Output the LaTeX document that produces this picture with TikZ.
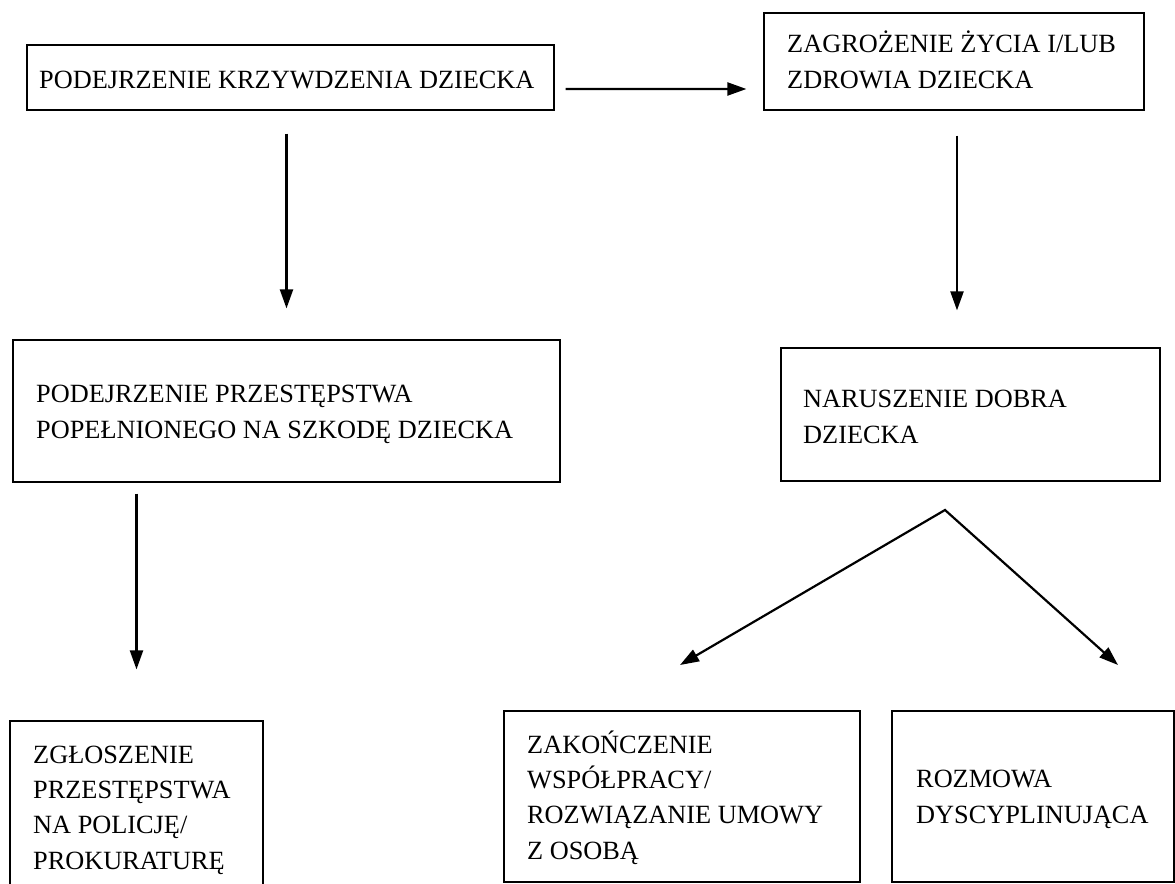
\documentclass[tikz,border=0pt]{standalone}
\usepackage{fontspec}
\setmainfont{Liberation Serif}
\usetikzlibrary{arrows.meta}
\begin{document}
\begin{tikzpicture}[x=1bp,y=-1bp,
  box/.style={draw=black,line width=1.2bp,rectangle,inner sep=0pt},
  txt/.style={anchor=base west,inner sep=0pt,align=left,
    font=\fontsize{26.4}{35.2}\selectfont},
  arr/.style={line width=2.2bp,-{Triangle[length=19bp,width=13bp]}},
  arr2/.style={line width=2.2bp,{Triangle[length=19bp,width=13bp]}-{Triangle[length=19bp,width=13bp]},line join=miter}]
\useasboundingbox (0,0) rectangle (1175,884);
\clip (0,0) rectangle (1175,884);
\fill[white] (0,0) rectangle (1175,884);
% boxes
\node[box,minimum width=527bp,minimum height=65bp] (b1) at (290.5,77.5) {};
\node[box,minimum width=380bp,minimum height=97bp] (b2) at (954,61.5) {};
\node[box,minimum width=547bp,minimum height=142bp] (b3) at (286.5,411) {};
\node[box,minimum width=379bp,minimum height=133bp] (b4) at (970.5,414.5) {};
\node[box,minimum width=253bp,minimum height=172bp] (b5) at (136.5,807) {};
\node[box,minimum width=356bp,minimum height=171bp] (b6) at (682,796.5) {};
\node[box,minimum width=282bp,minimum height=171bp] (b7) at (1033,796.5) {};
% texts (anchor = baseline of the last line)
\node[txt] (t1) at (39,88) {PODEJRZENIE KRZYWDZENIA DZIECKA};
\node[txt] (t2) at (787,88) {ZAGROŻENIE ŻYCIA I/LUB\\ZDROWIA DZIECKA};
\node[txt] (t3) at (36,438) {PODEJRZENIE PRZESTĘPSTWA\\POPEŁNIONEGO NA SZKODĘ DZIECKA};
\node[txt] (t4) at (803,443) {NARUSZENIE DOBRA\\DZIECKA};
\node[txt] (t5) at (33,869) {ZGŁOSZENIE\\PRZESTĘPSTWA\\NA POLICJĘ/\\PROKURATURĘ};
\node[txt] (t6) at (527,859) {ZAKOŃCZENIE\\WSPÓŁPRACY/\\ROZWIĄZANIE UMOWY\\Z OSOBĄ};
\node[txt] (t7) at (916,823) {ROZMOWA\\DYSCYPLINUJĄCA};
% connectors
\draw[arr,shorten <=11bp,shorten >=17bp] ([yshift=-11.5bp]b1.east) -- ([yshift=-27.5bp]b2.west);
\draw[arr,shorten <=23bp,shorten >=31bp] (b1.south -| b3.north) -- (b3.north);
\draw[arr,shorten <=25bp,shorten >=37bp] ([xshift=3bp]b2.south) -- ([xshift=3bp]b2.south |- b4.north);
\draw[arr,shorten <=11bp,shorten >=51bp] (b3.south -| b5.north) -- (b5.north);
\coordinate (apex) at (945,510);
\coordinate (vl) at (680,665);
\coordinate (vr) at (1118,665);
\draw[arr2] (vl) -- (apex) -- (vr);
\end{tikzpicture}
\end{document}
